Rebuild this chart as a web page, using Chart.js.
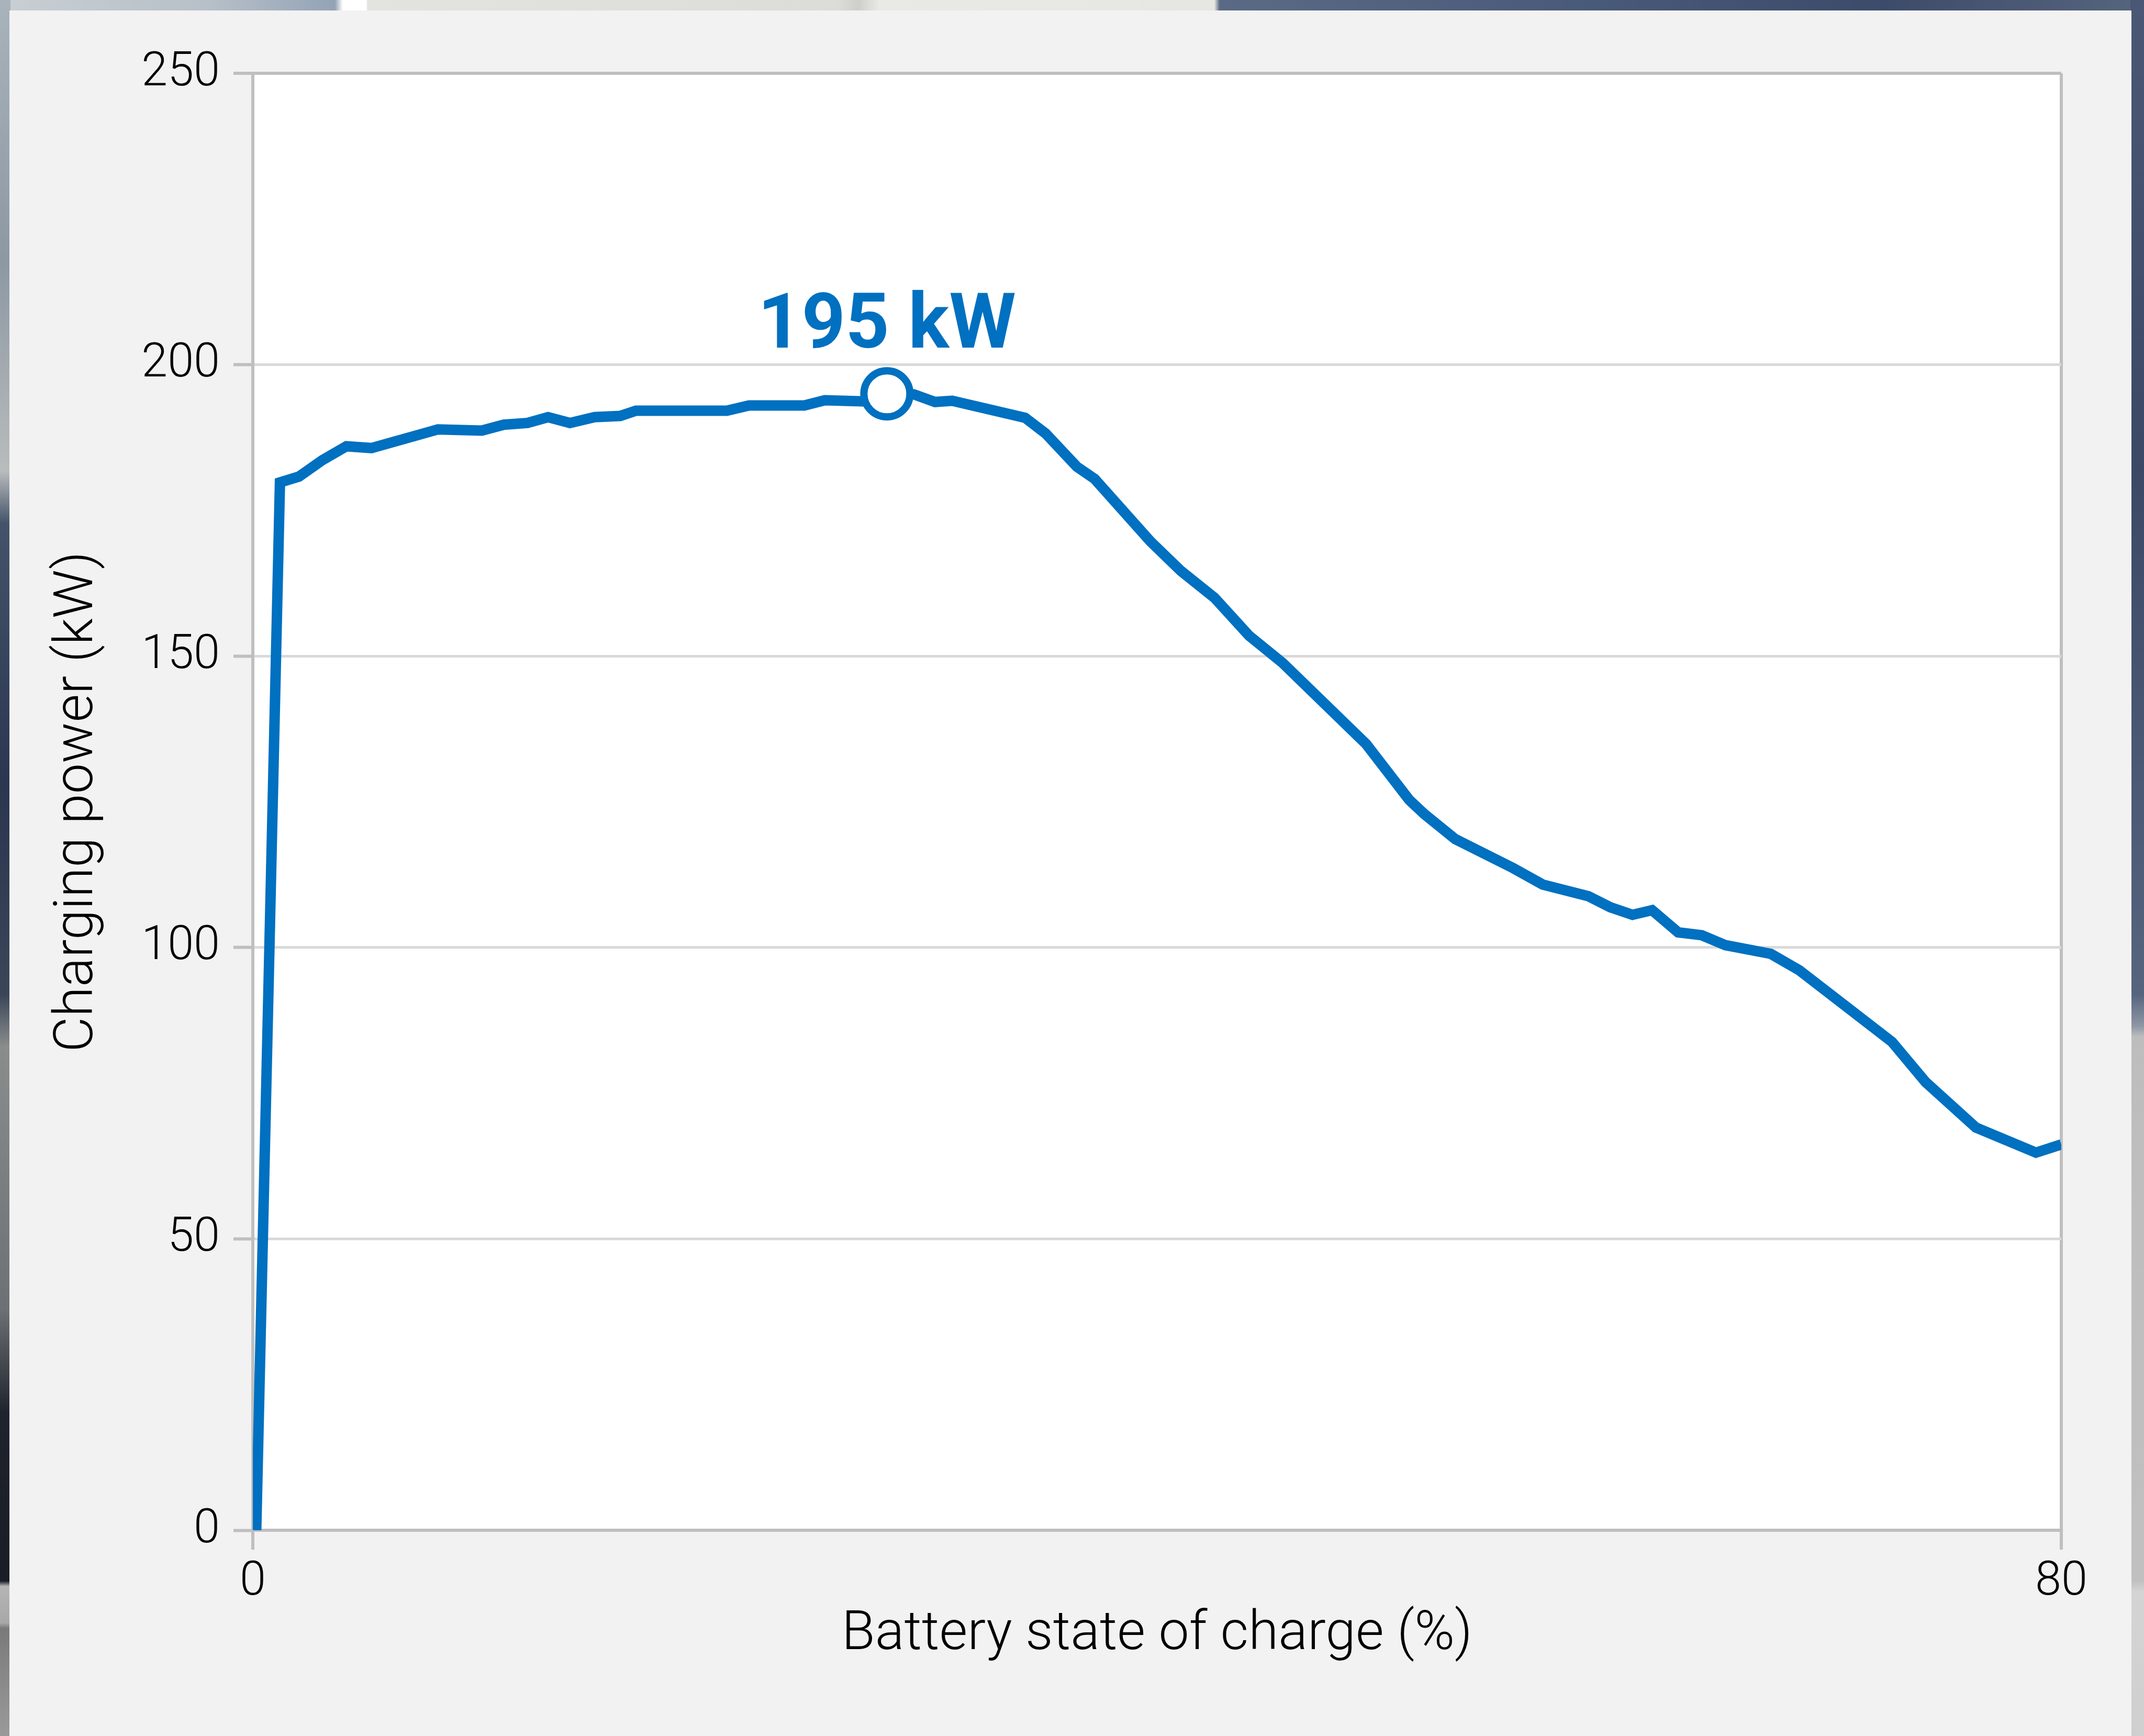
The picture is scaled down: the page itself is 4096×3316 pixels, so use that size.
<!DOCTYPE html>
<html>
<head>
<meta charset="utf-8">
<script src="https://cdn.jsdelivr.net/npm/chart.js@4.4.0/dist/chart.umd.min.js"></script>
<style>
  html, body { margin: 0; padding: 0; overflow: hidden; }
  body { width: 4096px; height: 3316px; position: relative; background: #55627a; }
  .strip { position: absolute; }
  #topStrip { left: 0; top: 0; width: 4096px; height: 22px;
    background: linear-gradient(to right, #c9cfd3 0px, #b7c0c8 400px, #93a3b6 640px, #ffffff 655px, #ffffff 700px, #e3e3e0 702px, #dcdcd8 1600px, #cfcfca 1640px, #e9e9e6 1680px, #e6e6e2 2320px, #5b6a84 2330px, #4a5a7a 3000px, #3d4b6a 3600px, #56657e 4096px); }
  #leftStrip { left: 0; top: 0; width: 20px; height: 3316px;
    background: linear-gradient(to bottom, #a9b3bb 0px, #8d98a4 500px, #b8bcbc 900px, #44536a 1000px, #2b3650 1500px, #3a4658 1900px, #8a8d8c 2000px, #6d7175 2500px, #1f232d 2700px, #1a1d25 3020px, #b5b5b5 3030px, #a8a8a8 3100px, #7a7a7a 3110px, #9a9a9a 3316px); }
  #rightStrip { left: 4070px; top: 0; width: 26px; height: 3316px;
    background: linear-gradient(to bottom, #4a5876 0px, #3b4967 900px, #56657e 1900px, #8d97a5 1960px, #bdbdbd 1980px, #c0c0c0 3020px, #d4d4d4 3040px, #cfcfcf 3316px); }
  #panel { position: absolute; left: 18px; top: 20px; width: 4054px; height: 3296px; background: #f2f2f2; }
  #chart { position: absolute; left: 0; top: 0; }
</style>
</head>
<body>
<div class="strip" id="topStrip"></div>
<div class="strip" id="leftStrip"></div>
<div class="strip" id="rightStrip"></div>
<div id="panel"></div>
<canvas id="chart" width="4096" height="3316"></canvas>
<script>
// Battery state of charge (%) and charging power (kW)
const soc = [0.15, 1.2, 2.04, 3.07, 4.14, 5.25, 8.19, 10.13, 11.1, 12.15, 13.06, 14.03, 15.12, 16.25, 16.95,
    20.97, 21.95, 24.4, 25.3, 27.05, 28.05, 29.25, 30.18, 30.94, 34.16, 35.07, 36.45, 37.24, 39.7, 41.06,
    42.54, 44.07, 45.56, 49.25, 51.16, 51.82, 53.19, 55.76, 57.06, 59.08, 60.05, 61.03, 61.9, 63.05, 64.1,
    65.14, 67.15, 68.41, 72.51, 74.0, 76.22, 78.88, 80];
const power = [0, 179.8, 180.8, 183.6, 186.0, 185.7, 188.9, 188.7, 189.7, 190.0, 191.0, 190.0, 191.0, 191.2, 192.1,
    192.1, 193.0, 193.0, 193.9, 193.7, 195, 194.9, 193.6, 193.8, 190.9, 188.2, 182.5, 180.4, 169.7, 164.6,
    160.0, 153.5, 148.8, 134.9, 125.3, 122.9, 118.6, 113.6, 110.8, 108.8, 106.9, 105.6, 106.4, 102.6, 102.1,
    100.4, 98.9, 96.1, 83.8, 76.9, 69.1, 64.8, 66.2];

const xTicks = [0, 80];
const yTicks = [0, 50, 100, 150, 200, 250];
const peakLabel = '195 kW';

const blue = '#0070c0';
const axisGrey = '#bfbfbf';
const gridGrey = '#d9d9d9';

const peakIndex = power.indexOf(Math.max(...power));
const points = soc.map((x, i) => ({ x: x, y: power[i] }));

// white plot area on the grey panel
const plotBackground = {
    id: 'plotBackground',
    beforeDraw(chart) {
        const { ctx, chartArea } = chart;
        ctx.save();
        ctx.fillStyle = '#ffffff';
        ctx.fillRect(chartArea.left, chartArea.top, chartArea.right - chartArea.left, chartArea.bottom - chartArea.top);
        ctx.restore();
    }
};

// "195 kW" over the peak point
const peakText = {
    id: 'peakText',
    afterDatasetsDraw(chart) {
        const { ctx, scales } = chart;
        const px = scales.x.getPixelForValue(soc[peakIndex]);
        const py = scales.y.getPixelForValue(power[peakIndex]);
        ctx.save();
        ctx.font = 'bold 146px Roboto';
        ctx.fillStyle = blue;
        ctx.textAlign = 'center';
        ctx.textBaseline = 'alphabetic';
        ctx.fillText(peakLabel, px, py - 88);
        ctx.restore();
    }
};

new Chart(document.getElementById('chart'), {
    type: 'line',
    data: {
        datasets: [{
            data: points,
            borderColor: blue,
            borderWidth: 20,
            borderJoinStyle: 'miter',
            borderCapStyle: 'butt',
            tension: 0,
            fill: false,
            pointRadius: ctx => ctx.dataIndex === peakIndex ? 44 : 0,
            pointHoverRadius: ctx => ctx.dataIndex === peakIndex ? 44 : 0,
            pointBackgroundColor: '#ffffff',
            pointBorderColor: blue,
            pointBorderWidth: 14
        }]
    },
    options: {
        responsive: false,
        animation: false,
        events: [],
        layout: { padding: { left: 0, top: 140, right: 158, bottom: 130 } },
        plugins: { legend: { display: false }, tooltip: { enabled: false } },
        scales: {
            x: {
                type: 'linear',
                min: 0,
                max: 80,
                afterBuildTicks: scale => { scale.ticks = xTicks.map(v => ({ value: v })); },
                afterFit: scale => { scale.height = 263; },
                ticks: {
                    autoSkip: false,
                    maxRotation: 0,
                    padding: 9,
                    color: '#000000',
                    font: { family: 'Roboto', size: 90, weight: 300 }
                },
                grid: {
                    color: axisGrey,
                    lineWidth: 6,
                    tickLength: 37,
                    tickColor: axisGrey,
                    tickWidth: 6
                },
                border: { color: axisGrey, width: 6 },
                title: {
                    display: true,
                    text: 'Battery state of charge (%)',
                    color: '#000000',
                    padding: { top: 0, bottom: 0 },
                    font: { family: 'Roboto', size: 104, weight: 300 }
                }
            },
            y: {
                min: 0,
                max: 250,
                afterBuildTicks: scale => { scale.ticks = yTicks.map(v => ({ value: v })); },
                afterFit: scale => { scale.width = 483; },
                ticks: {
                    padding: 26,
                    color: '#000000',
                    font: { family: 'Roboto', size: 90, weight: 300 }
                },
                grid: {
                    color: ctx => ctx.tick && ctx.tick.value === 250 ? axisGrey : gridGrey,
                    lineWidth: ctx => ctx.tick && ctx.tick.value === 250 ? 6 : 5,
                    tickLength: 37,
                    tickColor: axisGrey,
                    tickWidth: 6
                },
                border: { color: axisGrey, width: 6 },
                title: {
                    display: true,
                    text: 'Charging power (kW)',
                    color: '#000000',
                    padding: { top: 88, bottom: 0 },
                    font: { family: 'Roboto', size: 104, weight: 300 }
                }
            }
        }
    },
    plugins: [plotBackground, peakText]
});
</script>
</body>
</html>
